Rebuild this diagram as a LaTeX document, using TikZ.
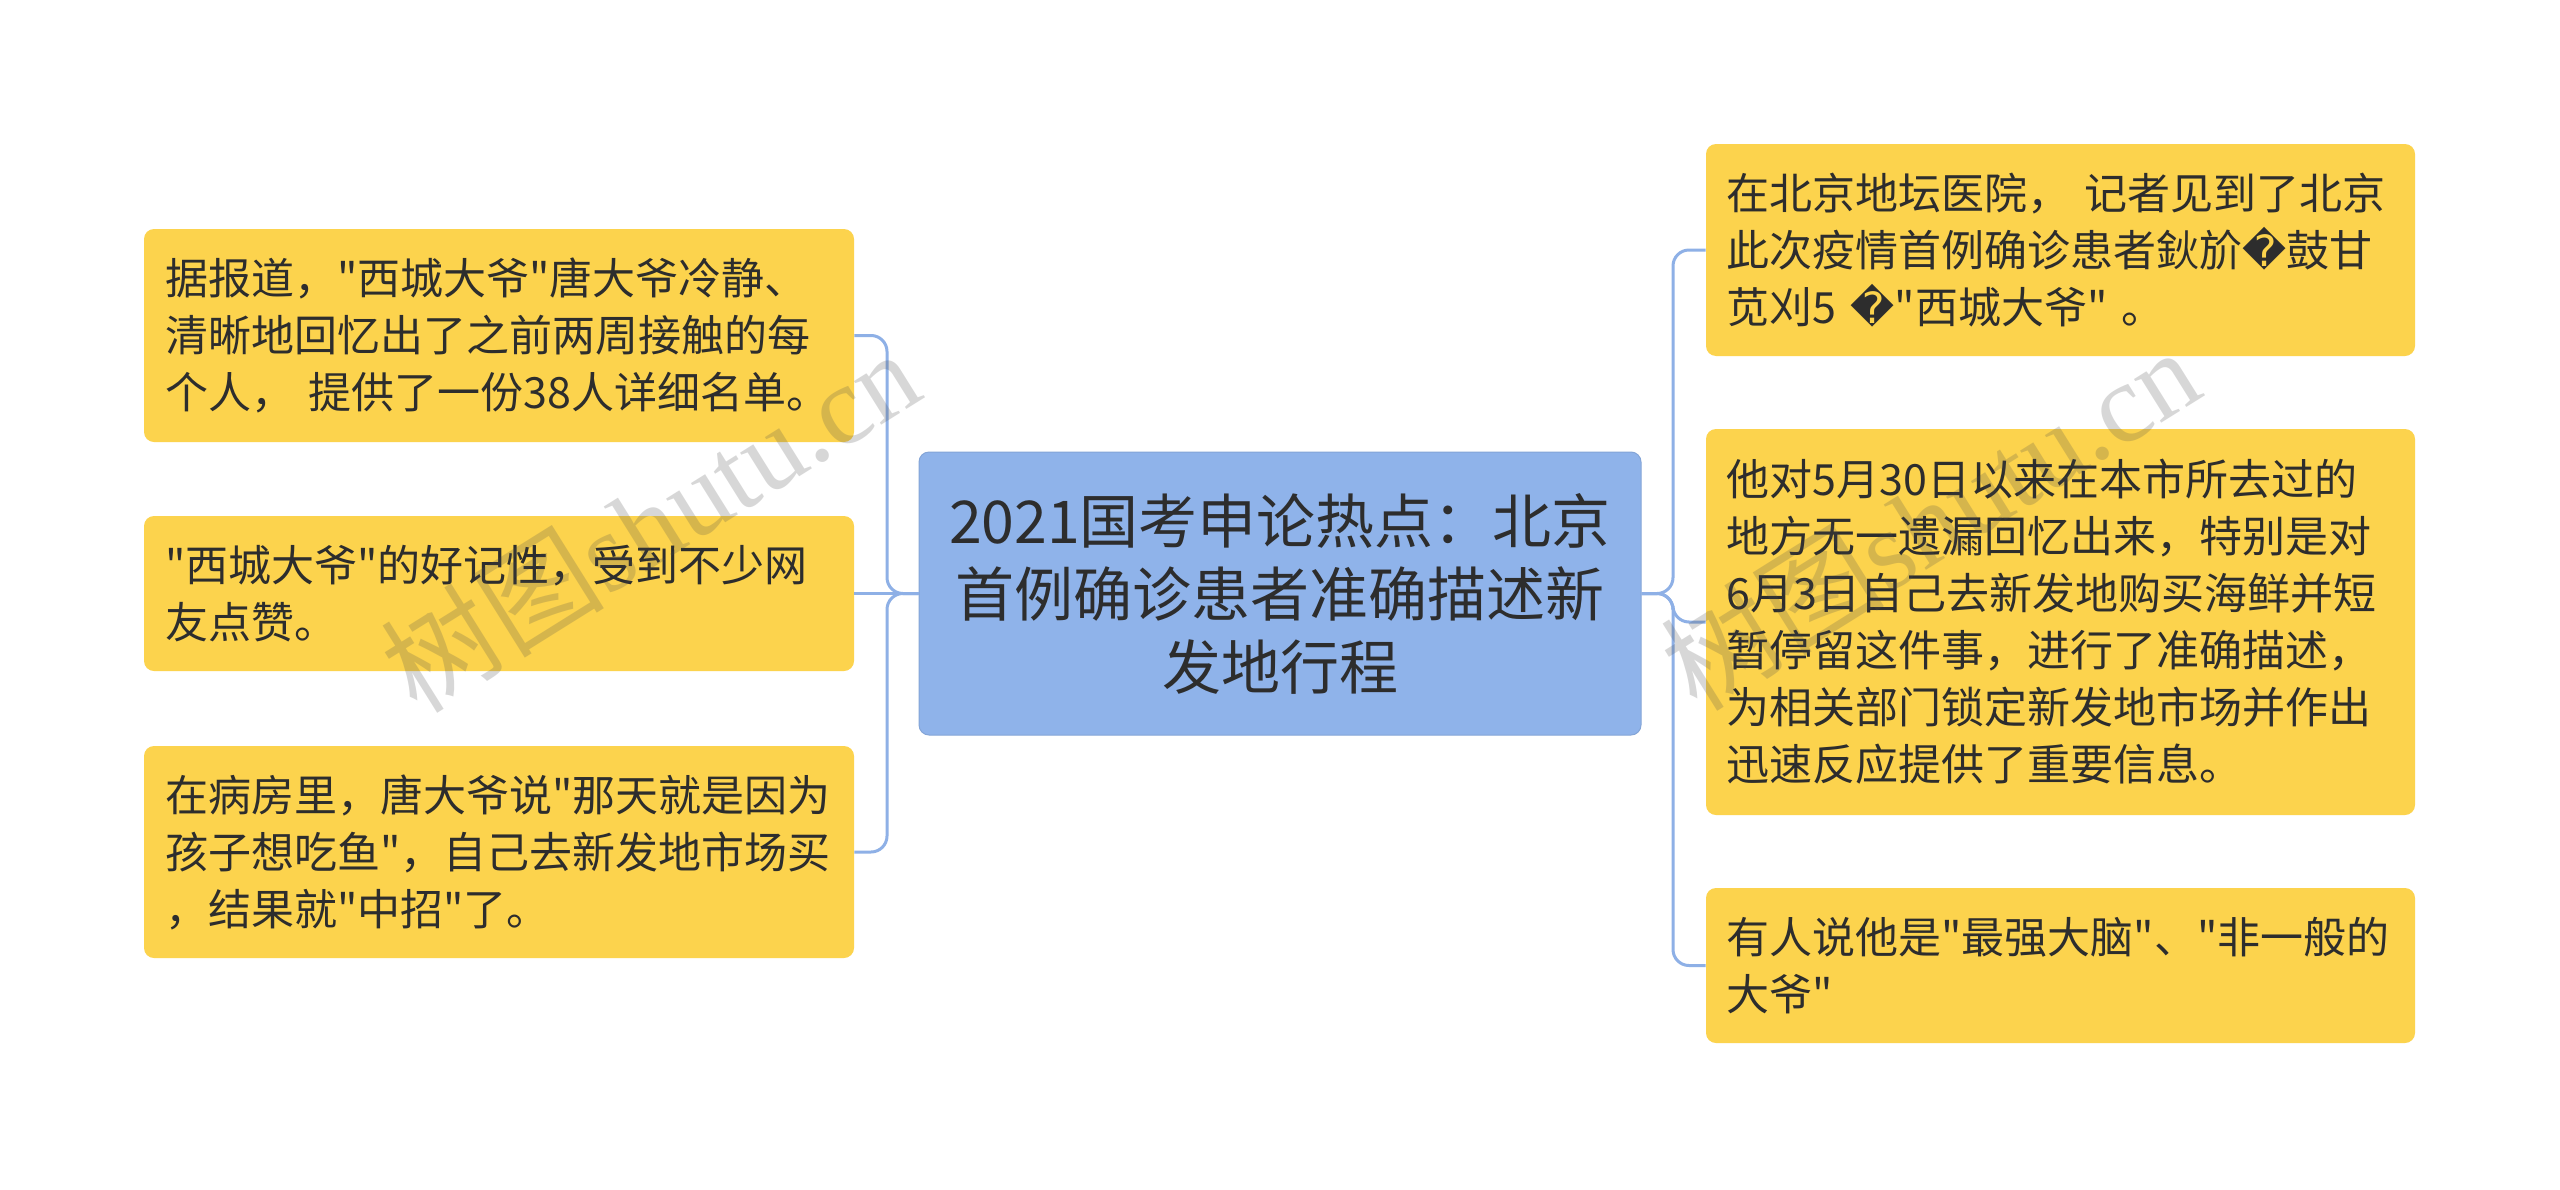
\documentclass[tikz,border=0pt]{standalone}
\usepackage{fontspec}
\setmainfont{Noto Sans CJK SC}
\newfontfamily\cjk{Noto Sans CJK SC}
\newfontfamily\dejavu{DejaVu Sans}
\newfontfamily\wmserif{Liberation Serif}
\usetikzlibrary{positioning}
\definecolor{boxyellow}{RGB}{252,211,77}
\definecolor{boxblue}{RGB}{143,179,234}
\definecolor{linkblue}{RGB}{142,176,230}
\definecolor{txt}{RGB}{45,45,45}
\newcommand{\rep}{{\dejavu\char"FFFD}}
\newcommand{\qq}{\char34\relax}
\tikzset{
  leaf/.style={fill=boxyellow, rounded corners=5pt, inner sep=0pt,
    minimum width=355pt, text width=334pt, align=left, text=txt,
    font=\cjk\fontsize{21.5pt}{28.5pt}\selectfont},
  root/.style={fill=boxblue, draw=boxblue!92!black, line width=0.5pt, rounded corners=5pt, inner sep=0pt,
    minimum width=361pt, minimum height=141.5pt, text width=340pt, align=center, text=txt,
    font=\cjk\fontsize{29.5pt}{36.5pt}\selectfont},
  conn/.style={draw=linkblue, line width=1.5pt, rounded corners=8pt},
  wm/.style={text=black!70, opacity=0.22, rotate=32, font=\cjk\fontsize{56pt}{60pt}\selectfont}
}
\begin{document}
\begin{tikzpicture}[x=0.5pt,y=-0.5pt]
\useasboundingbox[fill=white] (0,0) rectangle (2560,1189);

\node[root] (c) at (1280,593.5) {2021国考申论热点：北京\\首例确诊患者准确描述新\\发地行程};

\node[leaf, minimum height=106.5pt] (l1) at (499,335.5) {据报道，\qq 西城大爷\qq 唐大爷冷静、\\清晰地回忆出了之前两周接触的每\\个人， 提供了一份38人详细名单。};
\node[leaf, minimum height=77.5pt] (l2) at (499,593.5) {\qq 西城大爷\qq 的好记性，受到不少网\\友点赞。};
\node[leaf, minimum height=106pt] (l3) at (499,852) {在病房里，唐大爷说\qq 那天就是因为\\孩子想吃鱼\qq ，自己去新发地市场买\\，结果就\qq 中招\qq 了。};

\node[leaf, minimum width=354.5pt, minimum height=106pt] (r1) at (2060.5,250) {在北京地坛医院， 记者见到了北京\\此次疫情首例确诊患者鈥斺\rep 鼓甘\\苋刈5 \rep\qq 西城大爷\qq\ 。};
\node[leaf, minimum width=354.5pt, minimum height=193pt] (r2) at (2060.5,622) {他对5月30日以来在本市所去过的\\地方无一遗漏回忆出来，特别是对\\6月3日自己去新发地购买海鲜并短\\暂停留这件事，进行了准确描述，\\为相关部门锁定新发地市场并作出\\迅速反应提供了重要信息。};
\node[leaf, minimum width=354.5pt, minimum height=77.5pt] (r3) at (2060.5,965.5) {有人说他是\qq 最强大脑\qq 、\qq 非一般的\\大爷\qq};

\coordinate (lt) at (887,593.5);
\coordinate (rt) at (1673,593.5);

\draw[conn] (c.west) -- (lt) |- (l1.east);
\draw[conn] (c.west) -- (l2.east);
\draw[conn] (c.west) -- (lt) |- (l3.east);

\draw[conn] (c.east) -- (rt) |- (r1.west);
\draw[conn] (c.east) -- (rt) |- (r2.west);
\draw[conn] (c.east) -- (rt) |- (r3.west);

\node[wm] (w1) at (650,520) {树图{\wmserif shutu.cn}};
\node[wm] (w2) at (1930,518) {树图{\wmserif shutu.cn}};
\end{tikzpicture}
\end{document}
